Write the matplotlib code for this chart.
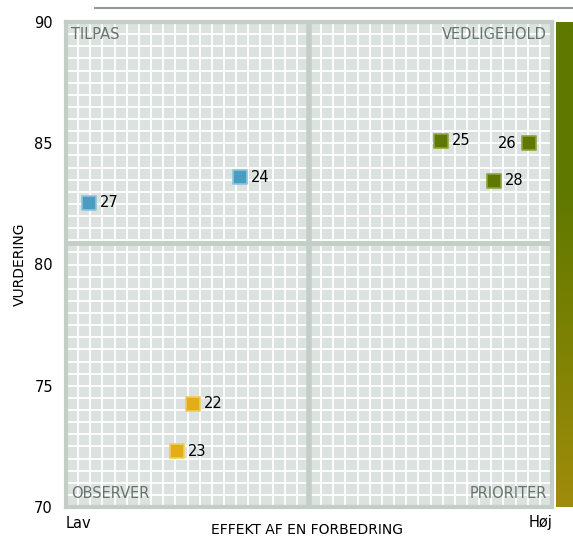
import numpy as np
import matplotlib.pyplot as plt
from matplotlib.lines import Line2D
from matplotlib.colors import LinearSegmentedColormap

# data (x = effekt 0-100, y = vurdering)
labels = ["22", "23", "24", "25", "26", "27", "28"]
effekt = [26.1, 22.8, 35.8, 77.2, 95.3, 4.7, 88.1]
vurdering = [74.25, 72.3, 83.6, 85.1, 85.0, 82.55, 83.45]
gruppe = ["gul", "gul", "blaa", "groen", "groen", "blaa", "groen"]

farver = {"gul": ("#e3ad18", "#f2cc5c"),
          "blaa": ("#4a9cc0", "#8cc4dc"),
          "groen": ("#5e7800", "#8da43a")}

x_mid = 50
y_mid = 80.9
quadrants = ["TILPAS", "VEDLIGEHOLD", "OBSERVER", "PRIORITER"]

fig = plt.figure(figsize=(5.73, 5.38), dpi=100)
ax = fig.add_axes([66/573, 1 - 507/538, 486/573, 485/538])
ax.set_xlim(0, 100)
ax.set_ylim(70, 90)
ax.set_facecolor("#dce2df")

# fine white grid
for gx in np.linspace(0, 100, 41):
    ax.axvline(gx, color="white", lw=1.3, zorder=1)
for gy in np.linspace(70, 90, 41):
    ax.axhline(gy, color="white", lw=1.3, zorder=1)

# quadrant dividers
ax.axvline(x_mid, color="#c3cfc6", lw=4, zorder=2)
ax.axhline(y_mid, color="#c3cfc6", lw=3.5, zorder=2)

for s in ax.spines.values():
    s.set_color("#c3cfc6")
    s.set_linewidth(3)

ax.set_xticks([])
ax.set_yticks([70, 75, 80, 85, 90])
ax.tick_params(axis="y", length=0, pad=9.4, labelsize=10.5)
fig.text(20/573, 1 - 264/538, "VURDERING", rotation=90, ha="center",
         va="center", fontsize=10)

for xi, yi, lab, g in zip(effekt, vurdering, labels, gruppe):
    fc, ec = farver[g]
    ax.scatter(xi, yi, marker="s", s=95, color=fc, edgecolors=ec,
               linewidths=1.2, zorder=5)
    if lab == "26":
        ax.annotate(lab, (xi, yi), xytext=(-9, 0), textcoords="offset points",
                    ha="right", va="center", fontsize=10.5, zorder=6)
    else:
        ax.annotate(lab, (xi, yi), xytext=(8, 0), textcoords="offset points",
                    ha="left", va="center", fontsize=10.5, zorder=6)

qc = "#66756b"
ax.text(0.011, 0.99, quadrants[0], transform=ax.transAxes, ha="left", va="top",
        fontsize=10.5, color=qc)
ax.text(0.989, 0.99, quadrants[1], transform=ax.transAxes, ha="right", va="top",
        fontsize=10.5, color=qc)
ax.text(0.011, 0.012, quadrants[2], transform=ax.transAxes, ha="left", va="bottom",
        fontsize=10.5, color=qc)
ax.text(0.989, 0.012, quadrants[3], transform=ax.transAxes, ha="right", va="bottom",
        fontsize=10.5, color=qc)

fig.text(66/573, 1 - 523/538, "Lav", ha="left", va="center", fontsize=10.5)
fig.text(553/573, 1 - 523/538, "Høj", ha="right", va="center", fontsize=10.5)
fig.text(307/573, 1 - 530/538, "EFFEKT AF EN FORBEDRING", ha="center",
         va="center", fontsize=10)

# gradient bar on the right
cax = fig.add_axes([556/573, 1 - 507/538, 17/573, 485/538])
cmap = LinearSegmentedColormap.from_list(
    "grad", ["#a08c0c", "#7d8204", "#5e7800", "#5e7800"])
cax.imshow(np.linspace(0, 1, 256).reshape(-1, 1), aspect="auto",
           cmap=cmap, origin="lower", extent=[0, 1, 0, 1])
cax.set_axis_off()

# top rule
fig.add_artist(Line2D([95/573, 1], [1 - 8/538, 1 - 8/538],
                      transform=fig.transFigure, color="#8c9a92", lw=1.5))

fig.savefig("out.png", dpi=100)
